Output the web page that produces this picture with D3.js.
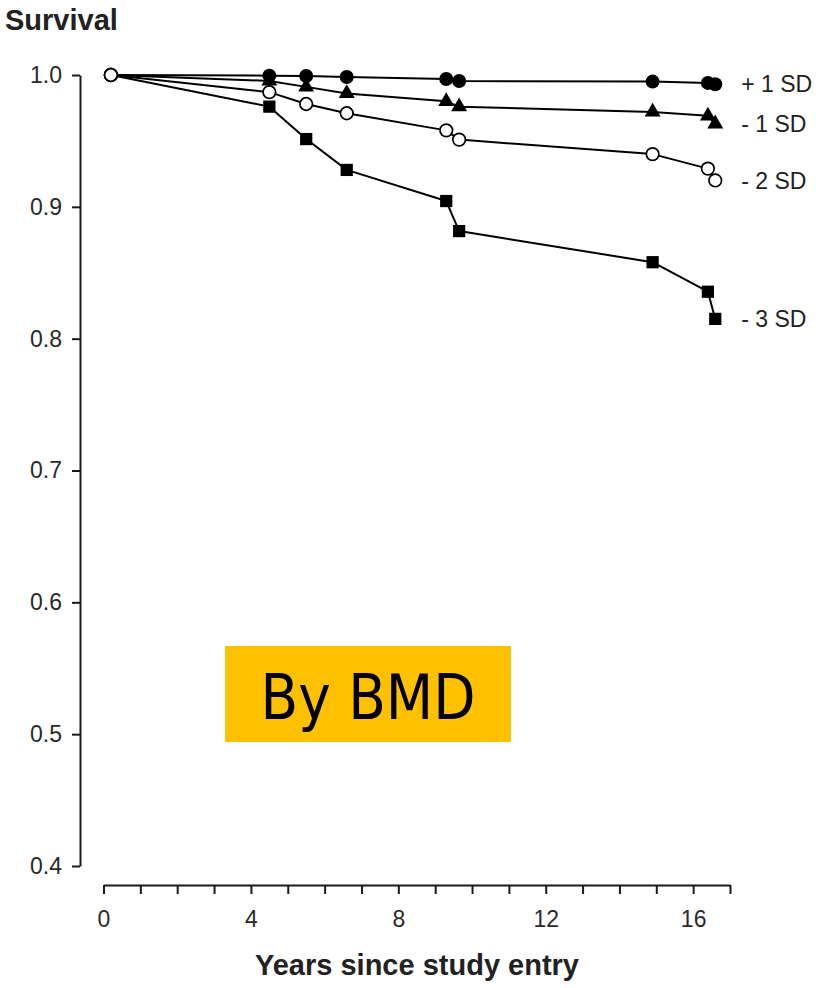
<!DOCTYPE html>
<html>
<head>
<meta charset="utf-8">
<script src="https://cdn.jsdelivr.net/npm/d3@7"></script>
<style>
  html, body { margin: 0; padding: 0; background: #fff; }
  svg { display: block; }
</style>
</head>
<body>
<svg id="chart" width="827" height="988"></svg>
<script>
// ---- Data ----
const years = [0.2, 4.5, 5.5, 6.6, 9.3, 9.65, 14.9, 16.4, 16.6];
const plus1SD  = [1.0, 0.9995, 0.9992, 0.9985, 0.997, 0.9954, 0.995, 0.994, 0.993];
const minus1SD = [1.0, 0.9955, 0.991, 0.986, 0.980, 0.976, 0.972, 0.969, 0.963];
const minus2SD = [1.0, 0.987, 0.978, 0.971, 0.958, 0.951, 0.940, 0.929, 0.920];
const minus3SD = [1.0, 0.976, 0.9514, 0.928, 0.9044, 0.8816, 0.858, 0.8356, 0.815];
const seriesNames = ["+ 1 SD", "- 1 SD", "- 2 SD", "- 3 SD"];
const seriesMarkers = ["filledCircle", "triangle", "openCircle", "square"];
const yTicks = [0.4, 0.5, 0.6, 0.7, 0.8, 0.9, 1.0];
const xTicks = d3.range(0, 18, 1);
const xTickLabels = [0, 4, 8, 12, 16];
const yTitle = "Survival";
const xTitle = "Years since study entry";
const badgeText = "By BMD";

const seriesValues = [plus1SD, minus1SD, minus2SD, minus3SD];
const series = seriesNames.map((name, i) => ({
  name, marker: seriesMarkers[i],
  points: years.map((t, j) => ({ t, v: seriesValues[i][j], j }))
}));

// ---- Layout ----
const svg = d3.select("#chart");
const x = d3.scaleLinear().domain([0, 17]).range([103.5, 730]);
const y = d3.scaleLinear().domain([0.4, 1.0]).range([866, 75]);
const yAxisX = 80;
const xAxisY = 885;
const axisColor = "#1a1a1a";
const labelFont = "'Liberation Sans', Arial, Helvetica, sans-serif";

// Y axis
const gy = svg.append("g")
  .attr("transform", `translate(${yAxisX},0)`)
  .call(d3.axisLeft(y).tickValues(yTicks).tickFormat(d3.format(".1f"))
    .tickSize(8).tickSizeOuter(0).tickPadding(10));
gy.select(".domain").attr("stroke", axisColor).attr("stroke-width", 2);
gy.selectAll(".tick line").attr("stroke", axisColor).attr("stroke-width", 2);
gy.selectAll(".tick text").attr("font-family", labelFont).attr("font-size", 23)
  .attr("fill", "#2a2a2a");

// X axis
const gx = svg.append("g")
  .attr("transform", `translate(0,${xAxisY})`)
  .call(d3.axisBottom(x).tickValues(xTicks)
    .tickFormat(d => xTickLabels.includes(d) ? String(d) : "")
    .tickSize(9).tickSizeOuter(0).tickPadding(17));
gx.select(".domain").attr("stroke", axisColor).attr("stroke-width", 2);
gx.selectAll(".tick line").attr("stroke", axisColor).attr("stroke-width", 2);
gx.selectAll(".tick text").attr("font-family", labelFont).attr("font-size", 23)
  .attr("fill", "#2a2a2a");

// Titles
svg.append("text").attr("x", 5).attr("y", 30)
  .attr("font-family", labelFont).attr("font-weight", "bold").attr("font-size", 29)
  .attr("fill", "#222").text(yTitle);
svg.append("text").attr("x", 417).attr("y", 975)
  .attr("text-anchor", "middle")
  .attr("font-family", labelFont).attr("font-weight", "bold").attr("font-size", 29)
  .attr("fill", "#222").text(xTitle);

// Lines
const line = d3.line().x(d => x(d.t)).y(d => y(d.v));
svg.append("g").selectAll("path").data(series).join("path")
  .attr("d", d => line(d.points))
  .attr("fill", "none").attr("stroke", "#000").attr("stroke-width", 2)
  .attr("stroke-linejoin", "round");

// Markers
const gm = svg.append("g");
series.forEach(s => {
  const pts = s.points.filter(p => p.j > 0);
  const g = gm.append("g");
  if (s.marker === "filledCircle") {
    g.selectAll("circle").data(pts).join("circle")
      .attr("cx", d => x(d.t)).attr("cy", d => y(d.v)).attr("r", 7).attr("fill", "#000");
  } else if (s.marker === "openCircle") {
    g.selectAll("circle").data(pts).join("circle")
      .attr("cx", d => x(d.t)).attr("cy", d => y(d.v)).attr("r", 6.3)
      .attr("fill", "#fff").attr("stroke", "#000").attr("stroke-width", 1.7);
  } else {
    const sym = s.marker === "triangle"
      ? d3.symbol().type(d3.symbolTriangle).size(110)
      : d3.symbol().type(d3.symbolSquare).size(150);
    g.selectAll("path").data(pts).join("path")
      .attr("transform", d => `translate(${x(d.t)},${y(d.v)})`)
      .attr("d", sym).attr("fill", "#000");
  }
});
// Shared start point (open circle)
gm.append("g").selectAll("circle")
  .data(series.map(s => s.points[0]))
  .join("circle")
  .attr("cx", d => x(d.t)).attr("cy", d => y(d.v)).attr("r", 6.3)
  .attr("fill", "#fff").attr("stroke", "#000").attr("stroke-width", 1.7);

// Series labels
svg.append("g").selectAll("text").data(series).join("text")
  .attr("x", d => x(d.points[d.points.length - 1].t) + 26)
  .attr("y", d => y(d.points[d.points.length - 1].v))
  .attr("dy", "0.35em")
  .attr("font-family", labelFont).attr("font-size", 23).attr("fill", "#222")
  .text(d => d.name);

// Badge
const badge = svg.append("g");
badge.append("rect").attr("x", 225).attr("y", 646).attr("width", 286).attr("height", 96)
  .attr("fill", "#FFC000");
badge.append("text").attr("x", 368).attr("y", 719)
  .attr("text-anchor", "middle")
  .attr("font-family", "'DejaVu Sans', Verdana, sans-serif").attr("font-size", 63)
  .attr("textLength", 215).attr("lengthAdjust", "spacingAndGlyphs")
  .attr("fill", "#000").text(badgeText);
</script>
</body>
</html>
